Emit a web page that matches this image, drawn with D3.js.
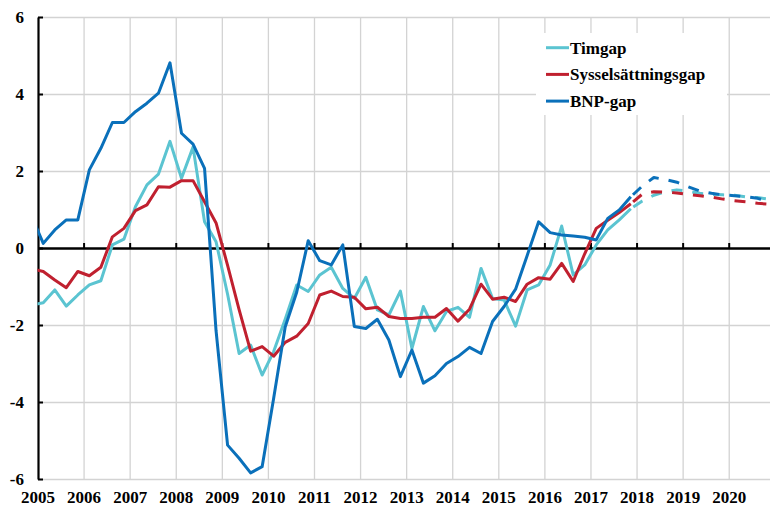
<!DOCTYPE html>
<html>
<head>
<meta charset="utf-8">
<script src="https://cdn.jsdelivr.net/npm/d3@7"></script>
<style>
  body { margin: 0; background: #fff; }
  svg { display: block; }
  svg text { font-family: "Liberation Serif", "Times New Roman", serif; font-weight: bold; font-size: 17px; fill: #000; }
  .grid line { stroke: #d3d3d3; stroke-width: 1.3; }
  .grid path { display: none; }
</style>
</head>
<body>
<svg width="770" height="506"></svg>
<script>
// Quarters (point plotted mid-quarter); 2004Q4 only feeds the clipped start of each line
const histQuarters = [
  "2004Q4",
  "2005Q1","2005Q2","2005Q3","2005Q4",
  "2006Q1","2006Q2","2006Q3","2006Q4",
  "2007Q1","2007Q2","2007Q3","2007Q4",
  "2008Q1","2008Q2","2008Q3","2008Q4",
  "2009Q1","2009Q2","2009Q3","2009Q4",
  "2010Q1","2010Q2","2010Q3","2010Q4",
  "2011Q1","2011Q2","2011Q3","2011Q4",
  "2012Q1","2012Q2","2012Q3","2012Q4",
  "2013Q1","2013Q2","2013Q3","2013Q4",
  "2014Q1","2014Q2","2014Q3","2014Q4",
  "2015Q1","2015Q2","2015Q3","2015Q4",
  "2016Q1","2016Q2","2016Q3","2016Q4",
  "2017Q1","2017Q2","2017Q3","2017Q4"
];
const forecastQuarters = [
  "2017Q4",
  "2018Q1","2018Q2","2018Q3","2018Q4",
  "2019Q1","2019Q2","2019Q3","2019Q4",
  "2020Q1","2020Q2","2020Q3","2020Q4"
];

// Timgap
const timgapHist = [
  -1.48,
  -1.42, -1.09, -1.51, -1.22,
  -0.96, -0.85, 0.08, 0.23,
  1.07, 1.64, 1.92, 2.77,
  1.81, 2.62, 0.68, 0.16,
  -1.20, -2.74, -2.52, -3.30,
  -2.69, -1.85, -0.96, -1.13,
  -0.70, -0.50, -1.05, -1.31,
  -0.76, -1.61, -1.74, -1.12,
  -2.61, -1.52, -2.15, -1.65,
  -1.54, -1.80, -0.53, -1.31,
  -1.35, -2.03, -1.09, -0.96,
  -0.44, 0.57, -0.70, -0.44,
  0.08, 0.47, 0.73, 1.02
];
const timgapFcst = [1.02, 1.22, 1.37, 1.46, 1.51, 1.47, 1.42, 1.39, 1.38, 1.37, 1.33, 1.31, 1.27];

// Sysselsättningsgap
const sysHist = [
  -0.54,
  -0.61, -0.83, -1.03, -0.61,
  -0.72, -0.50, 0.29, 0.51,
  0.97, 1.12, 1.59, 1.58,
  1.75, 1.75, 1.20, 0.65,
  -0.45, -1.60, -2.68, -2.56,
  -2.81, -2.45, -2.29, -1.96,
  -1.22, -1.12, -1.26, -1.28,
  -1.58, -1.54, -1.78, -1.83,
  -1.83, -1.80, -1.80, -1.57,
  -1.90, -1.59, -0.94, -1.33,
  -1.28, -1.39, -0.94, -0.77,
  -0.81, -0.40, -0.87, -0.15,
  0.51, 0.72, 0.92, 1.15
];
const sysFcst = [1.15, 1.40, 1.46, 1.45, 1.43, 1.39, 1.36, 1.32, 1.27, 1.23, 1.20, 1.16, 1.14];

// BNP-gap
const bnpHist = [
  0.82,
  0.12, 0.47, 0.73, 0.73,
  2.03, 2.59, 3.26, 3.26,
  3.54, 3.76, 4.02, 4.81,
  2.98, 2.70, 2.07, -2.15,
  -5.12, -5.46, -5.84, -5.68,
  -3.90, -2.05, -1.15, 0.19,
  -0.33, -0.44, 0.08, -2.04,
  -2.09, -1.85, -2.39, -3.34,
  -2.65, -3.51, -3.32, -3.00,
  -2.82, -2.58, -2.74, -1.91,
  -1.52, -1.07, -0.20, 0.68,
  0.40, 0.34, 0.31, 0.28,
  0.21, 0.77, 0.99, 1.33
];
const bnpFcst = [1.33, 1.61, 1.83, 1.78, 1.71, 1.59, 1.48, 1.42, 1.38, 1.36, 1.33, 1.29, 1.21];

const yearTicks = [2005, 2006, 2007, 2008, 2009, 2010, 2011, 2012, 2013, 2014, 2015, 2016, 2017, 2018, 2019, 2020];
const valueTicks = [-6, -4, -2, 0, 2, 4, 6];
const seriesNames = ["Timgap", "Sysselsättningsgap", "BNP-gap"];
const seriesColors = ["#5bc4d1", "#c0202f", "#0a70ba"];

const svg = d3.select("svg");
const W = 770, H = 506;
const plotLeft = 38, plotRight = 770, plotTop = 17, plotBottom = 479;

const x = d3.scaleLinear().domain([2005, 2021]).range([37.5, 774.8]);
const y = d3.scaleLinear().domain([-6, 6]).range([plotBottom, plotTop]);

const qx = q => +q.slice(0, 4) + (+q.slice(5) - 1) / 4 + 0.125;

// Gridlines
svg.append("g")
  .attr("class", "grid")
  .attr("transform", `translate(0,${plotBottom})`)
  .call(d3.axisBottom(x).tickValues(yearTicks.slice(1)).tickSize(-(plotBottom - plotTop)).tickFormat(""));

svg.append("g")
  .attr("class", "grid")
  .attr("transform", `translate(${plotLeft},0)`)
  .call(d3.axisLeft(y).tickValues(valueTicks.filter(v => v !== 0)).tickSize(-(plotRight - plotLeft)).tickFormat(""));

// Year labels along the bottom
const xLabels = svg.append("g")
  .attr("transform", `translate(0,${plotBottom})`)
  .call(d3.axisBottom(x).tickValues(yearTicks).tickSize(0).tickPadding(12).tickFormat(d3.format("d")));
xLabels.select(".domain").remove();

// Zero line with small upward ticks
const zero = svg.append("g")
  .attr("transform", `translate(0,${y(0)})`)
  .call(d3.axisBottom(x).tickValues(yearTicks.slice(1)).tickSize(-5).tickSizeOuter(0).tickFormat(""));
zero.select(".domain").attr("stroke", "#000").attr("stroke-width", 2.4);
zero.selectAll(".tick line").attr("stroke", "#000").attr("stroke-width", 2);

// Y axis
const yAxis = svg.append("g")
  .attr("transform", `translate(${plotLeft},0)`)
  .call(d3.axisLeft(y).tickValues(valueTicks).tickSize(-5).tickSizeOuter(0).tickPadding(14).tickFormat(d => d));
yAxis.select(".domain").attr("stroke", "#000").attr("stroke-width", 2.2);
yAxis.selectAll(".tick line").attr("stroke", "#000").attr("stroke-width", 2);
yAxis.selectAll(".tick text").attr("dy", "0.34em");

// Lines
svg.append("clipPath").attr("id", "plot")
  .append("rect").attr("x", 37.5).attr("y", 0).attr("width", plotRight - 37.5).attr("height", H);

const line = d3.line()
  .x(d => x(qx(d[0])))
  .y(d => y(d[1]));

const hist = [timgapHist, sysHist, bnpHist];
const fcst = [timgapFcst, sysFcst, bnpFcst];
const plot = svg.append("g").attr("clip-path", "url(#plot)");

hist.forEach((vals, i) => {
  plot.append("path")
    .datum(d3.zip(histQuarters, vals))
    .attr("fill", "none")
    .attr("stroke", seriesColors[i])
    .attr("stroke-width", 3)
    .attr("stroke-linejoin", "round")
    .attr("d", line);
});
fcst.forEach((vals, i) => {
  plot.append("path")
    .datum(d3.zip(forecastQuarters, vals))
    .attr("fill", "none")
    .attr("stroke", seriesColors[i])
    .attr("stroke-width", 3)
    .attr("stroke-linejoin", "round")
    .attr("stroke-dasharray", "11,10")
    .attr("stroke-dashoffset", 18)
    .attr("d", line);
});

// Legend
const legend = svg.append("g").attr("transform", "translate(536,33)");
legend.append("rect").attr("width", 191).attr("height", 82).attr("fill", "#fff");
seriesNames.forEach((name, i) => {
  const row = legend.append("g").attr("transform", `translate(0,${14.7 + i * 26.7})`);
  row.append("line")
    .attr("x1", 10).attr("x2", 33)
    .attr("stroke", seriesColors[i]).attr("stroke-width", 3);
  row.append("text")
    .attr("x", 34).attr("y", 5.8)
    .text(name);
});
</script>
</body>
</html>
